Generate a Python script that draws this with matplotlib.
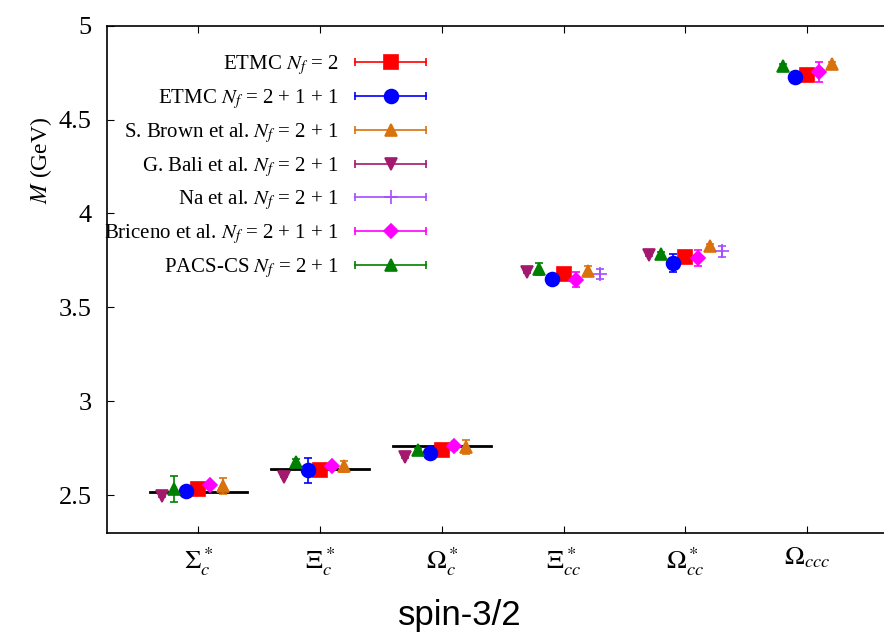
import matplotlib
matplotlib.use("Agg")
import matplotlib.pyplot as plt
import numpy as np
from matplotlib.lines import Line2D
from matplotlib.legend_handler import HandlerBase

plt.rcParams['font.family'] = 'serif'
plt.rcParams['font.serif'] = ['Liberation Serif', 'DejaVu Serif']
plt.rcParams['mathtext.fontset'] = 'stix'

# baryon categories
baryons = [r"$\Sigma_c^*$", r"$\Xi_c^*$", r"$\Omega_c^*$",
           r"$\Xi_{cc}^*$", r"$\Omega_{cc}^*$", r"$\Omega_{ccc}$"]

# experimental values (only the first three)
exp_mass = [2.518, 2.642, 2.764]

# lattice results (nan = no value)
etmc2_m = [2.536, 2.637, 2.743, 3.679, 3.771, 4.737]
etmc2_e = [0.010, 0.010, 0.010, 0.010, 0.010, 0.010]
etmc211_m = [2.525, 2.633, 2.725, 3.650, 3.736, 4.726]
etmc211_e = [0.010, 0.067, 0.012, 0.012, 0.046, 0.012]
brown_m = [2.548, 2.655, 2.755, 3.695, 3.827, 4.795]
brown_e = [0.043, 0.030, 0.037, 0.028, 0.010, 0.010]
bali_m = [2.498, 2.600, 2.702, 3.686, 3.780, np.nan]
bali_e = [0.005, 0.005, 0.005, 0.005, 0.005, np.nan]
na_m = [np.nan, np.nan, np.nan, 3.680, 3.800, np.nan]
na_e = [np.nan, np.nan, np.nan, 0.027, 0.029, np.nan]
briceno_m = [2.557, 2.654, 2.760, 3.647, 3.762, 4.753]
briceno_e = [0.012, 0.010, 0.020, 0.039, 0.043, 0.053]
pacs_m = [2.535, 2.679, 2.743, 3.705, 3.785, 4.787]
pacs_e = [0.070, 0.012, 0.010, 0.030, 0.010, 0.010]

series = [
    (r"ETMC $N_f$ = 2", etmc2_m, etmc2_e, 0.0, '#ff0000', 's', 10),
    (r"ETMC $N_f$ = 2 + 1 + 1", etmc211_m, etmc211_e, -0.1, '#0000ff', 'o', 10),
    (r"S. Brown et al. $N_f$ = 2 + 1", brown_m, brown_e, 0.2, '#d9720d', '^', 9),
    (r"G. Bali et al. $N_f$ = 2 + 1", bali_m, bali_e, -0.3, '#a3196e', 'v', 9),
    (r"Na et al. $N_f$ = 2 + 1", na_m, na_e, 0.3, '#a64dff', '+', 10),
    (r"Briceno et al. $N_f$ = 2 + 1 + 1", briceno_m, briceno_e, 0.1, '#ff00ff', 'D', 7),
    (r"PACS-CS $N_f$ = 2 + 1", pacs_m, pacs_e, -0.2, '#008000', '^', 9),
]


class HandlerHBar(HandlerBase):
    # gnuplot-like key sample: horizontal bar with caps, marker in the middle
    def create_artists(self, legend, orig_handle, xdescent, ydescent,
                       width, height, fontsize, trans):
        y = height / 2 - ydescent
        c = orig_handle.get_color()
        bar = Line2D([-xdescent, width - xdescent], [y, y], color=c, lw=1.2)
        caps = Line2D([-xdescent, width - xdescent], [y, y], ls='none',
                      marker='|', ms=6, mew=1.2, color=c)
        mk = Line2D([width / 2 - xdescent], [y], ls='none',
                    marker=orig_handle.get_marker(),
                    ms=orig_handle.get_markersize(), color=c, mew=1.2)
        for a in (bar, caps, mk):
            a.set_transform(trans)
        return [bar, caps, mk]


fig = plt.figure(figsize=(8.84, 6.39), dpi=100)
ax = fig.add_axes([0.121, 0.166, 0.879, 0.794])

x = np.arange(1, len(baryons) + 1)

for xi, m in zip(x, exp_mass):
    ax.plot([xi - 0.4, xi + 0.4], [m, m], color='black', lw=2, zorder=1)

handles = []
for label, m, e, off, col, mk, ms in series:
    ax.errorbar(x + off, m, yerr=e, fmt=mk, color=col, ms=ms,
                elinewidth=1.2, capsize=3, capthick=1.2, mew=1.2, zorder=3)
    handles.append(Line2D([], [], color=col, marker=mk, ms=ms, label=label))

leg = ax.legend(handles=handles, loc='upper left', bbox_to_anchor=(-0.028, 0.983),
                frameon=False, markerfirst=False, fontsize=15,
                handlelength=3.4, handletextpad=0.8, labelspacing=0.48,
                handler_map={Line2D: HandlerHBar()})

ax.set_xlim(0.25, 6.63)
ax.set_ylim(2.3, 5.0)
ax.set_xticks(x)
ax.set_xticklabels(baryons, fontsize=19)
ax.set_yticks([2.5, 3, 3.5, 4, 4.5, 5])
ax.set_yticklabels(["2.5", "3", "3.5", "4", "4.5", "5"], fontsize=19)
ax.tick_params(direction='in', length=5, top=True, right=False)
ax.tick_params(axis='y', pad=11)
ax.tick_params(axis='x', pad=9)
ax.spines['right'].set_visible(False)
for s in ('left', 'bottom', 'top'):
    ax.spines[s].set_linewidth(1.2)

ax.set_ylabel(r"$M$ (GeV)", fontsize=17)
ax.yaxis.set_label_coords(-0.068, 0.735)
ax.set_xlabel("spin-3/2", fontsize=25, family='Liberation Sans')
ax.xaxis.set_label_coords(0.454, -0.13)

fig.savefig("out.png", dpi=100)
